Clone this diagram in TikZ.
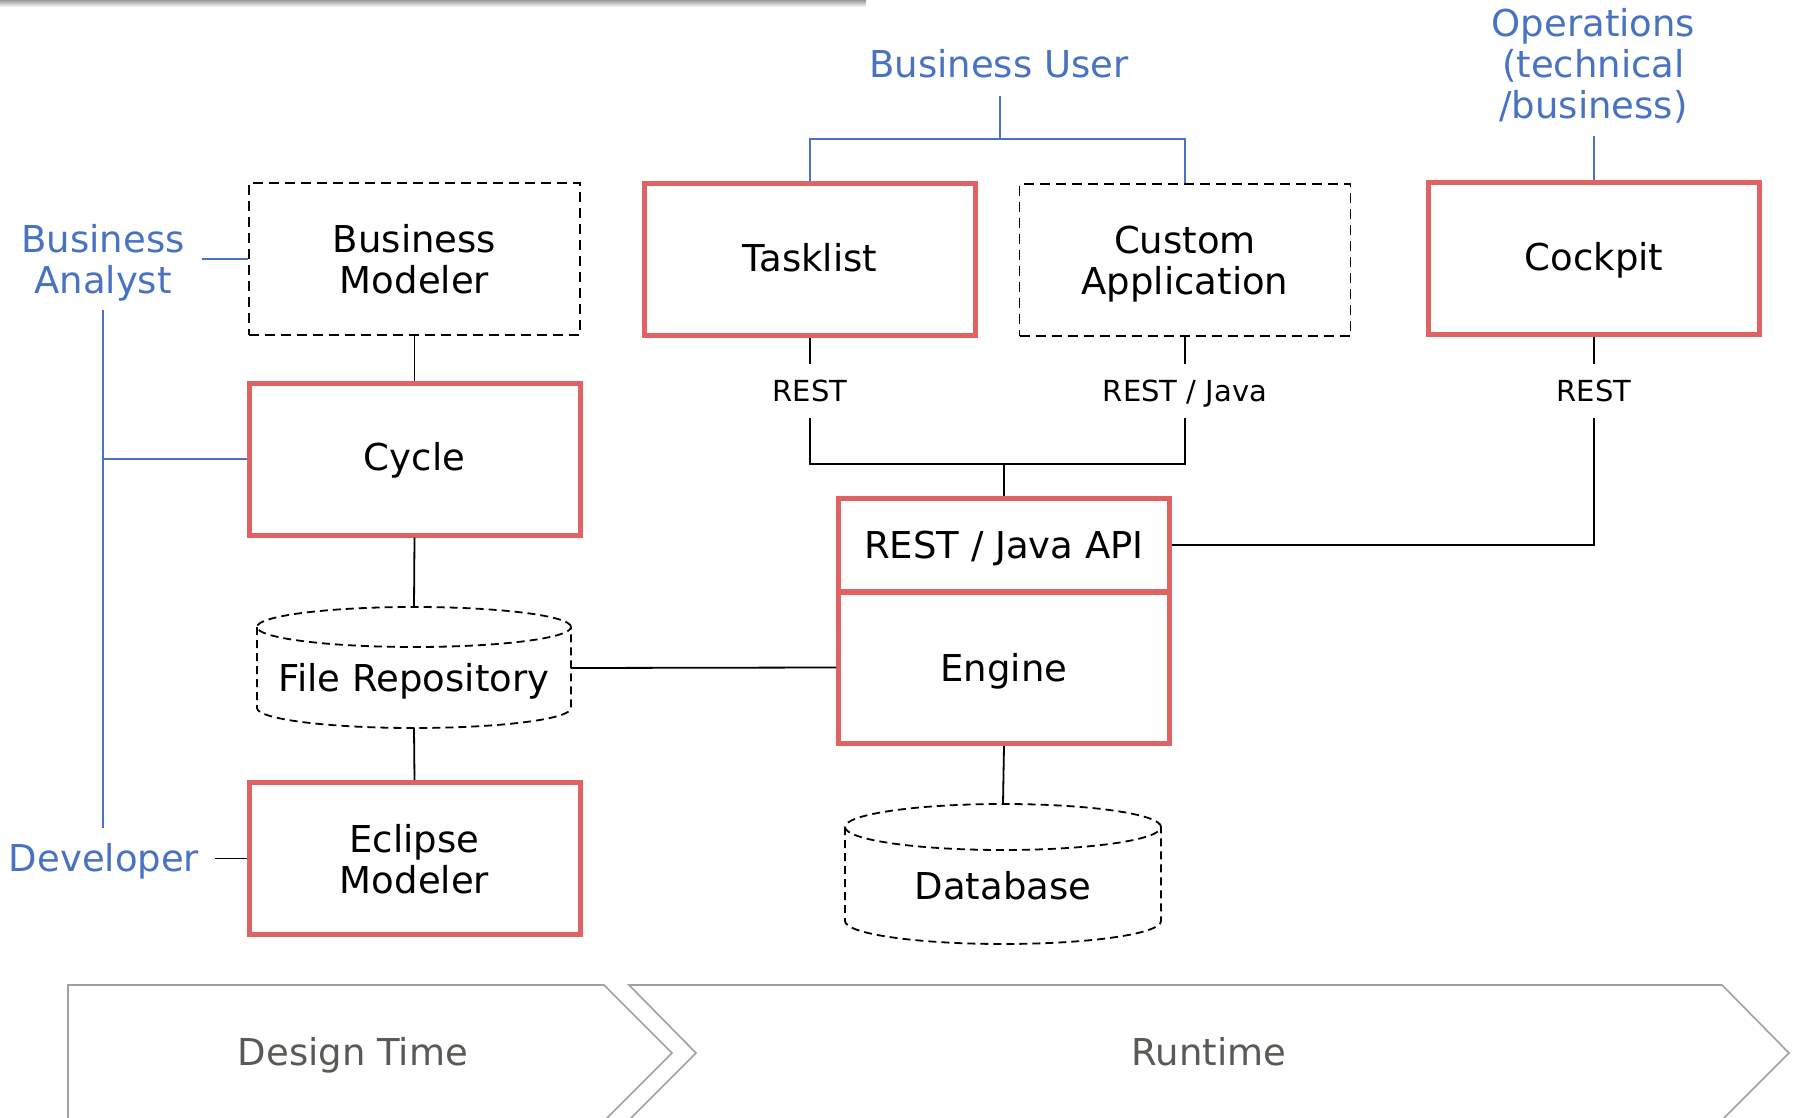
\documentclass[tikz,border=0pt]{standalone}
\usepackage{fontspec}
\setmainfont{DejaVu Sans}
\newcommand{\boxfont}{\fontsize{18.5}{20.5}\selectfont}
\newcommand{\lblfont}{\fontsize{14.5}{16}\selectfont}
\definecolor{redc}{RGB}{224,98,98}
\definecolor{bluec}{RGB}{72,114,196}
\definecolor{chevc}{RGB}{160,160,160}
\definecolor{phasetc}{RGB}{89,89,85}
\begin{document}
\begin{tikzpicture}[x=0.5pt,y=-0.5pt,
  box/.style={minimum width=165.5pt,minimum height=76pt,inner sep=0pt,align=center,font=\boxfont,text depth=0pt},
  oneline/.style={text height=11.75pt},
  redbox/.style={box,draw=redc,line width=2.5pt},
  dashbox/.style={box,draw=black,line width=0.9pt,dash pattern=on 5pt off 3pt},
  cyl/.style={draw=black,line width=0.9pt,dash pattern=on 4pt off 2.5pt},
  conn/.style={draw=black,line width=0.9pt},
  bconn/.style={draw=bluec,line width=0.9pt},
  role/.style={text=bluec,font=\boxfont,align=center,inner sep=0pt},
  lbl/.style={font=\lblfont,inner sep=0pt,minimum height=26.5pt,text depth=0pt},
  phase/.style={draw=chevc,line width=0.8pt},
  phasetxt/.style={text=phasetc,font=\boxfont,inner sep=0pt,anchor=base}
]
\useasboundingbox (0,0) rectangle (1794,1118);
\fill[white] (0,0) rectangle (1794,1118);
\shade[top color=black!40,bottom color=white] (0,0) rectangle (866,7);

% main boxes
\node[dashbox] (bm) at (414.5,259) {Business\\Modeler};
\node[redbox,oneline] (cycle) at (414.5,459) {Cycle};
\node[redbox] (eclipse) at (414.5,858.5) {Eclipse\\Modeler};
\node[redbox,oneline] (tasklist) at (810,260) {Tasklist};
\node[dashbox] (custom) at (1185,260) {Custom\\Application};
\node[redbox,oneline] (cockpit) at (1594,258.5) {Cockpit};
\node[redbox,minimum height=46.75pt] (api) at (1004,545.25) {REST / Java API};
\node[redbox] (engine) at (1004,667.5) {Engine};

% file repository cylinder
\draw[cyl] (414,627) ellipse [x radius=78.5pt,y radius=10pt];
\draw[cyl] (257,627) -- (257,708) arc[start angle=180,end angle=360,x radius=78.5pt,y radius=10pt] -- (571,627);
\node[font=\boxfont,inner sep=0pt,text depth=0pt] (fr) at (414,677.5) {File Repository};
\coordinate (frtop) at (414,607);
\coordinate (frbot) at (414,728);
\coordinate (frright) at (571,668);

% database cylinder
\draw[cyl] (1003,827) ellipse [x radius=79pt,y radius=11.5pt];
\draw[cyl] (845,827) -- (845,921) arc[start angle=180,end angle=360,x radius=79pt,y radius=11.5pt] -- (1161,827);
\node[font=\boxfont,inner sep=0pt,text depth=0pt] (db) at (1003,885) {Database};
\coordinate (dbtop) at (1003,804);

% interface labels
\node[lbl] (r1) at (810,391) {REST};
\node[lbl] (r2) at (1185,391) {REST / Java};
\node[lbl] (r3) at (1594,391) {REST};
\coordinate (j) at (1004,464);

% black connectors
\draw[conn] (bm.south) -- (cycle.north);
\draw[conn] (cycle.south) -- (frtop);
\draw[conn] (frbot) -- (eclipse.north);
\draw[conn] (frright) -- (engine.west);
\draw[conn] (engine.south) -- (dbtop);
\draw[conn] (tasklist.south) -- (r1.north);
\draw[conn] (custom.south) -- (r2.north);
\draw[conn] (cockpit.south) -- (r3.north);
\draw[conn] (r1.south) |- (j) -| (r2.south);
\draw[conn] (j) -- (api.north);
\draw[conn] (r3.south) |- (api.east);

% roles
\node[role,inner xsep=8.5pt] (ba) at (103,263) {Business\\Analyst};
\node[role,inner xsep=7.5pt] (dev) at (104,861) {Developer};
\node[role,anchor=base] (bu) at (999,78) {Business User};
\node[role] (ops) at (1593.5,66) {Operations\\(technical\\/business)};

\coordinate (bvtop) at (103,310);
\coordinate (bvbot) at (103,828);
\draw[bconn] (ba.east |- bm.west) -- (bm.west);
\draw[bconn] (bvtop) -- (bvbot);
\draw[bconn] (bvtop |- cycle.west) -- (cycle.west);
\draw[conn] (dev.east |- eclipse.west) -- (eclipse.west);

\coordinate (bul) at (1000,96);
\coordinate (buj) at (1000,139);
\draw[bconn] (bul) -- (buj);
\draw[bconn] (tasklist.north) |- (buj) -| (custom.north);
\coordinate (opl) at (1594,136);
\draw[bconn] (opl) -- (cockpit.north);

% phases
\draw[phase] (68,1120) -- (68,985) -- (604,985) -- (672,1053) -- (605,1120);
\draw[phase] (629,1120) -- (696,1053) -- (629,985) -- (1722,985) -- (1789,1053) -- (1722,1120);
\node[phasetxt] (dt) at (353,1065) {Design Time};
\node[phasetxt] (rt) at (1209,1065) {Runtime};
\end{tikzpicture}
\end{document}
